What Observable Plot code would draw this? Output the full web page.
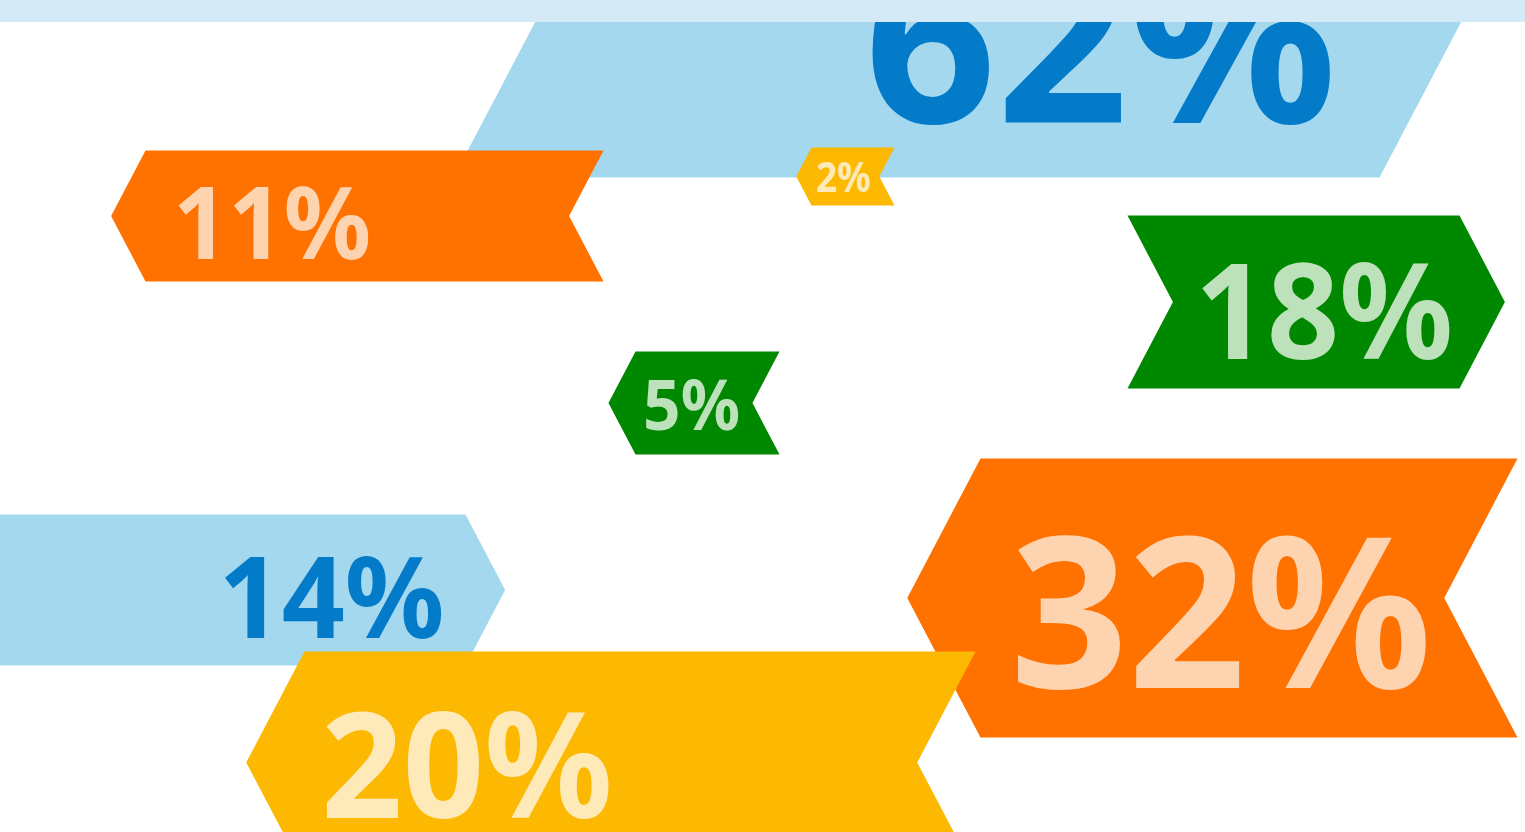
<!DOCTYPE html>
<html>
<head>
<meta charset="utf-8">
<script src="https://cdn.jsdelivr.net/npm/d3@7"></script>
<script src="https://cdn.jsdelivr.net/npm/@observablehq/plot@0.6"></script>
<style>
  html, body { margin: 0; padding: 0; background: #ffffff; overflow: hidden; }
  #wrap { position: relative; width: 1525px; height: 832px; overflow: hidden; }
  #band { position: absolute; left: 0; top: 0; width: 1525px; height: 22px; background: #d4ebf7; }
  svg { overflow: hidden; display: block; }
</style>
</head>
<body>
<div id="wrap"><div id="chart"></div><div id="band"></div></div>
<script>
// ---- data ----
const labels    = ["62%", "11%", "2%", "18%", "5%", "32%", "14%", "20%"];
const values    = [62, 11, 2, 18, 5, 32, 14, 20];
const groups    = ["blue", "orange", "yellow", "green", "green", "orange", "blue", "yellow"];
const direction = ["right", "left", "left", "right", "left", "left", "right", "left"];

// ---- layout (chevron body edges, vertical centre, half height) ----
const bodyLeft  = [453, 145, 811, 1127, 635, 980, -150, 304];
const bodyRight = [1379, 603, 894, 1459, 779, 1517, 465, 975];
const midY      = [20, 215.5, 176, 301.5, 402.5, 597.5, 589.5, 762];
const halfH     = [157, 65.5, 29, 86.5, 51.5, 139.5, 75.5, 111];
const labelX    = [1100, 271.5, 843, 1323.5, 691, 1220.5, 331, 466.5];
const labelY    = [40, 222, 176.5, 311, 405, 613, 597.5, 765.5];
const labelSize = [232, 101, 41, 132, 70, 210, 113, 147];
const labelInk  = [456, 191, 52, 249, 92, 407, 218, 281];

// ---- styles ----
const fillColor = {blue: "#a3d8ef", orange: "#ff7200", yellow: "#fdb801", green: "#008800"};
const textColor = {blue: "#037bc9", orange: "#fed4b0", yellow: "#fee9b8", green: "#bde2bb"};
const tipRatio = 0.525;

function chevron(i) {
  const l = bodyLeft[i], r = bodyRight[i], m = midY[i], h = halfH[i], d = tipRatio * h;
  const y0 = m - h, y1 = m + h;
  let pts;
  if (direction[i] === "left") {
    pts = [[l, y0], [r, y0], [r - d, m], [r, y1], [l, y1], [l - d, m]];
  } else {
    pts = [[l, y0], [r, y0], [r + d, m], [r, y1], [l, y1], [l + d, m]];
  }
  pts.push(pts[0]);
  return pts.map(([x, y]) => ({x, y}));
}

const marks = [];
labels.forEach((lab, i) => {
  marks.push(Plot.line(chevron(i), {x: "x", y: "y", fill: fillColor[groups[i]], stroke: "none", curve: "linear"}));
  marks.push(Plot.text([{label: lab, value: values[i]}], {
    x: () => labelX[i],
    y: () => labelY[i] + 0.037 * labelSize[i],
    text: "label",
    fill: textColor[groups[i]],
    fontSize: labelSize[i],
    fontWeight: "bold",
    fontFamily: "'Noto Sans', 'Open Sans', sans-serif",
    textAnchor: "middle",
    lineAnchor: "middle"
  }));
});

const svg = Plot.plot({
  width: 1525,
  height: 832,
  margin: 0,
  x: {domain: [0, 1525], range: [0, 1525], axis: null},
  y: {domain: [0, 832], range: [0, 832], axis: null},
  style: {background: "transparent", overflow: "hidden"},
  marks
});

// fit label widths
svg.querySelectorAll("text").forEach((t, i) => {
  if (i < labels.length) {
    t.setAttribute("textLength", labelInk[i] + 0.07 * labelSize[i]);
    t.setAttribute("lengthAdjust", "spacingAndGlyphs");
  }
});
document.getElementById("chart").appendChild(svg);
</script>
</body>
</html>
